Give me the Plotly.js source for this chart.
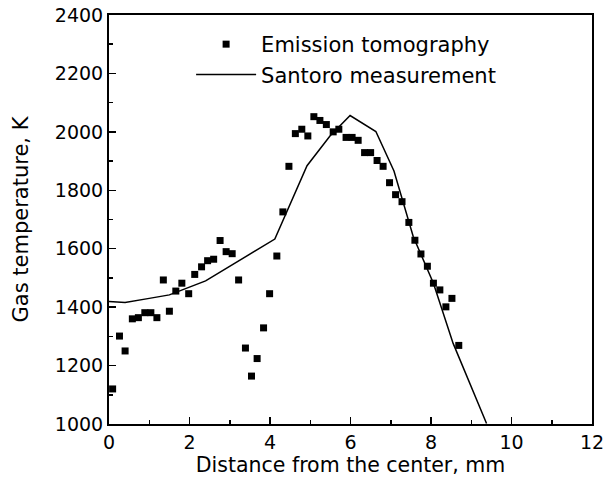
<!DOCTYPE html>
<html>
<head>
<meta charset="utf-8">
<script src="https://cdn.plot.ly/plotly-3.0.1.min.js"></script>
<style>html,body{margin:0;padding:0;background:#fff;}#chart{width:608px;height:482px;}</style>
</head>
<body>
<div id="chart"></div>
<script>
// Emission tomography (square markers)
var emissionX = [0.09,0.26,0.40,0.58,0.73,0.89,1.04,1.19,1.35,1.50,1.66,1.81,1.98,2.13,2.30,2.45,2.60,2.76,2.91,3.06,3.22,3.39,3.54,3.68,3.84,3.99,4.17,4.32,4.47,4.63,4.79,4.94,5.09,5.24,5.40,5.57,5.71,5.89,6.04,6.19,6.35,6.50,6.66,6.81,6.97,7.12,7.28,7.45,7.60,7.75,7.91,8.06,8.22,8.37,8.52,8.69];
var emissionY = [1120,1301,1250,1360,1364,1381,1381,1364,1493,1386,1455,1482,1446,1512,1538,1559,1564,1628,1590,1583,1493,1260,1164,1224,1329,1446,1575,1726,1882,1994,2009,1986,2052,2039,2025,2000,2009,1981,1981,1971,1929,1929,1902,1882,1826,1785,1761,1690,1629,1582,1540,1482,1459,1401,1430,1269];
// Santoro measurement (line)
var santoroX = [0, 0.4, 1.0, 1.5, 2.4, 4.12, 4.92, 5.49, 5.99, 6.63, 7.08, 7.56, 8.06, 8.55, 9.38];
var santoroY = [1419, 1416, 1430, 1442, 1490, 1633, 1884, 1986, 2056, 2001, 1866, 1641, 1482, 1276, 1002];

var FONT = 'DejaVu Sans, Arial, sans-serif';

var traces = [
  {x: emissionX, y: emissionY, type: 'scatter', mode: 'markers', name: 'Emission tomography',
   marker: {symbol: 'square', size: 7, color: '#000'}},
  {x: santoroX, y: santoroY, type: 'scatter', mode: 'lines', name: 'Santoro measurement',
   line: {color: '#000', width: 1.5}}
];

var axisCommon = {
  showline: true, mirror: true, linecolor: '#000', linewidth: 2,
  showgrid: false, zeroline: false,
  ticks: 'inside', ticklen: 7, tickwidth: 1.5, tickcolor: '#000',
  tickfont: {family: FONT, size: 19, color: '#000'}
};

var layout = {
  width: 608, height: 482,
  margin: {l: 109, r: 16, t: 15, b: 58},
  paper_bgcolor: '#fff', plot_bgcolor: '#fff',
  showlegend: true,
  legend: {x: 0.17, y: 0.978, xanchor: 'left', yanchor: 'top', bgcolor: 'rgba(0,0,0,0)',
           font: {family: FONT, size: 21, color: '#000'}, itemwidth: 60, tracegroupgap: 0},
  xaxis: Object.assign({}, axisCommon, {
    range: [0, 12], dtick: 2, tick0: 0,
    minor: {dtick: 1, ticks: 'inside', ticklen: 4, tickwidth: 1.5, tickcolor: '#000'},
    title: {text: 'Distance from the center, mm', font: {family: FONT, size: 20.5, color: '#000'}, standoff: 2}
  }),
  yaxis: Object.assign({}, axisCommon, {
    range: [1000, 2400], dtick: 200, tick0: 1000,
    minor: {dtick: 100, ticks: 'inside', ticklen: 4, tickwidth: 1.5, tickcolor: '#000'},
    title: {text: 'Gas temperature, K', font: {family: FONT, size: 21, color: '#000'}, standoff: 20}
  })
};

Plotly.newPlot('chart', traces, layout, {displayModeBar: false, staticPlot: true});
</script>
</body>
</html>
